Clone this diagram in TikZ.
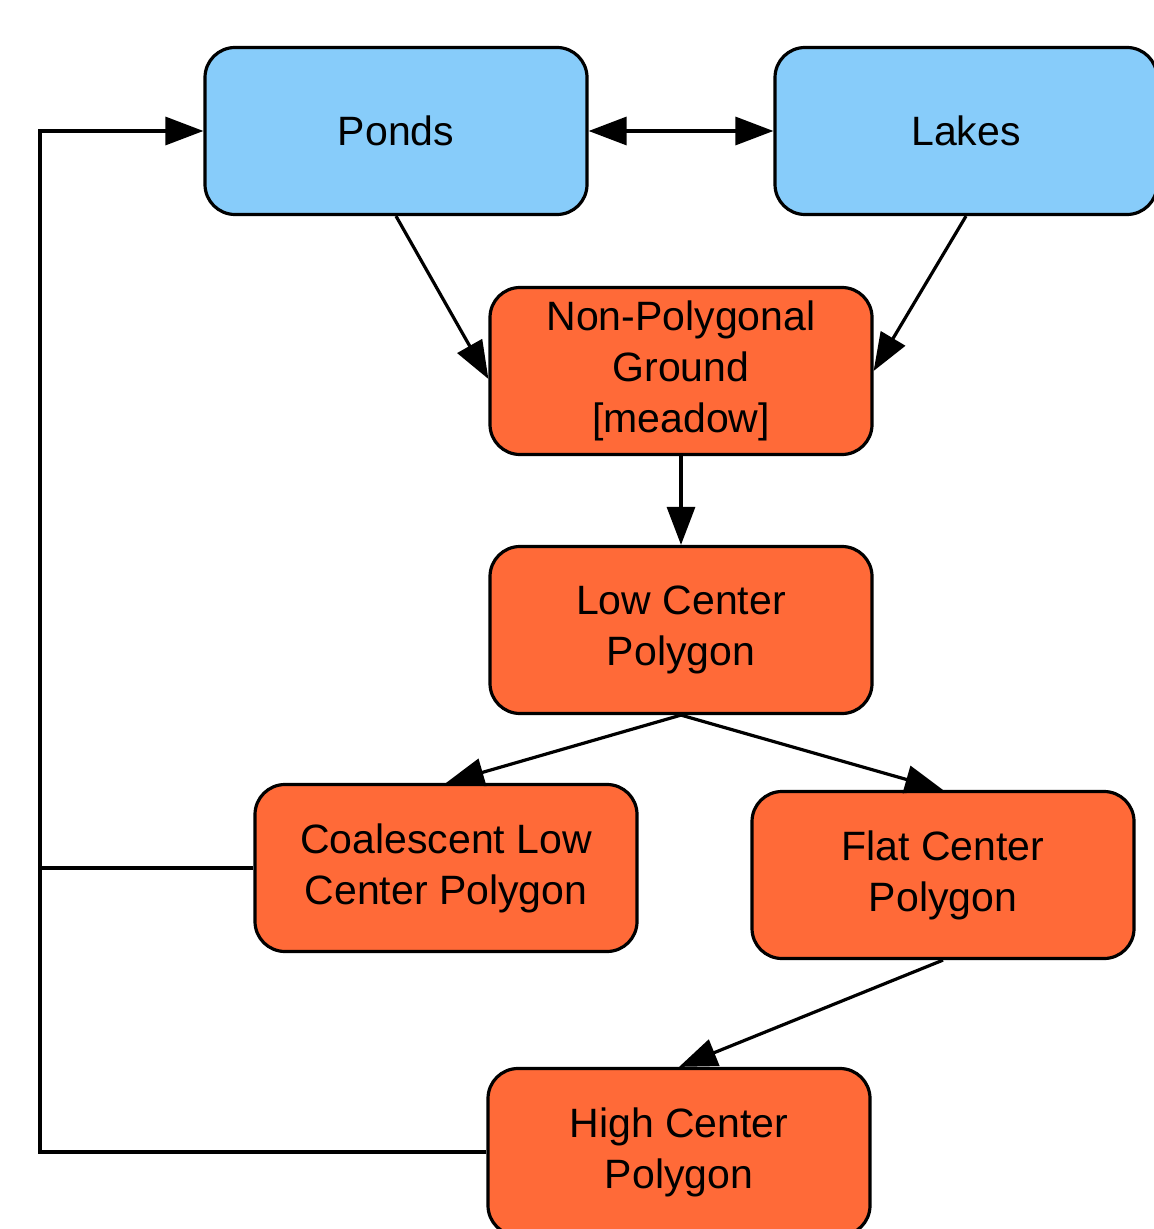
\documentclass[tikz,border=0pt]{standalone}
\usepackage{fontspec}
\setmainfont{Liberation Sans}
\usetikzlibrary{arrows.meta,calc}
\definecolor{pondblue}{RGB}{135,204,250}
\definecolor{polyorange}{RGB}{255,106,56}
\begin{document}
\begin{tikzpicture}[x=0.5pt,y=-0.5pt,
  box/.style={draw=black, line width=1.6pt, rounded corners=15pt,
    minimum width=191pt, minimum height=83.5pt, inner sep=0pt,
    align=center, font=\fontsize{20.5}{25.5}\selectfont},
  bluebox/.style={box, fill=pondblue},
  orangebox/.style={box, fill=polyorange},
  conn/.style={line width=1.6pt, draw=black},
  arr/.style={conn, -{Triangle[length=19pt,width=14pt]}},
  darr/.style={conn, {Triangle[length=19pt,width=14pt]}-{Triangle[length=19pt,width=14pt]}}]
\useasboundingbox (0,0) rectangle (1153,1229);
\node[bluebox] (ponds) at (396,131) {Ponds};
\node[bluebox] (lakes) at (966,131) {Lakes};
\node[orangebox] (npg) at (681,371) {\raisebox{-2pt}{\parbox{180pt}{\centering Non-Polygonal\\Ground\\{[meadow]}}}};
\node[orangebox] (lcp) at (681,630) {\raisebox{-1.5pt}{\parbox{180pt}{\centering Low Center\\Polygon}}};
\node[orangebox] (clcp) at (446,868) {\raisebox{-1pt}{\parbox{180pt}{\centering Coalescent Low\\Center Polygon}}};
\node[orangebox] (fcp) at (943,875) {\raisebox{-1pt}{\parbox{180pt}{\centering Flat Center\\Polygon}}};
\node[orangebox] (hcp) at (679,1152) {\raisebox{-1pt}{\parbox{180pt}{\centering High Center\\Polygon}}};
\coordinate (lb) at (40,1152);
\coordinate (lt) at (40,131);
\draw[darr] (ponds.east) -- (lakes.west);
\draw[arr] (ponds.south) -- ($(npg.west)+(0,8)$);
\draw[arr] (lakes.south) -- (npg.east);
\draw[arr] (npg.south) -- (lcp.north);
\draw[arr] (lcp.south) -- (clcp.north);
\draw[arr] (lcp.south) -- (fcp.north);
\draw[arr] (fcp.south) -- (hcp.north);
\draw[arr] (hcp.west) -- (lb) -- (lt) -- (ponds.west);
\draw[conn] (clcp.west) -- (clcp.west -| lb);
\end{tikzpicture}
\end{document}
